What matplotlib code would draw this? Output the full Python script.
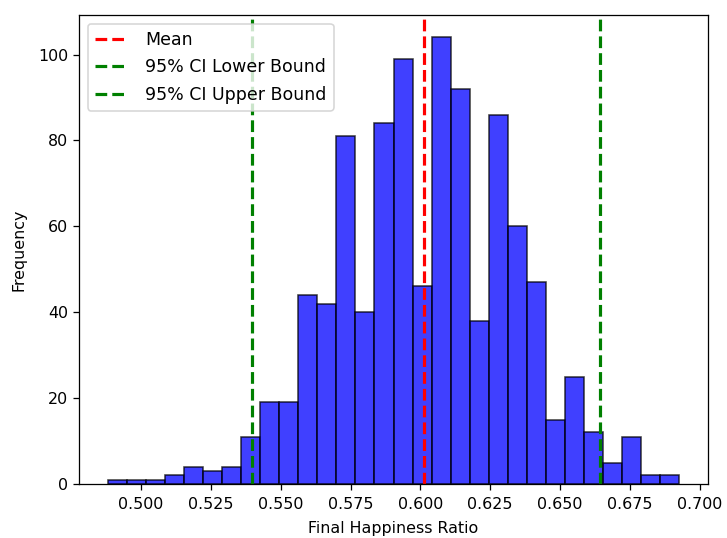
import numpy as np
import matplotlib
matplotlib.use("Agg")
import matplotlib.pyplot as plt
from matplotlib.ticker import MultipleLocator, FormatStrFormatter

# ---- data ----------------------------------------------------------------
counts = [1, 1, 1, 2, 4, 3, 4, 11, 19, 19, 44, 42, 81, 40, 84,
          99, 46, 104, 92, 38, 86, 60, 47, 15, 25, 12, 5, 11, 2, 2]
bin_lo = 0.4880
bin_hi = 0.6928
mean_val = 0.6013
ci_lower = 0.5398
ci_upper = 0.6642

edges = np.linspace(bin_lo, bin_hi, len(counts) + 1)
centers = (edges[:-1] + edges[1:]) / 2

# ---- plot ----------------------------------------------------------------
DPI = 114
fig = plt.figure(figsize=(727 / DPI, 538 / DPI), dpi=DPI)
ax = fig.add_axes([0.1087, 0.1004, 0.8652, 0.8717])

ax.hist(centers, bins=edges, weights=counts, color="blue", alpha=0.75,
        edgecolor="black")
ax.axvline(mean_val, color="red", ls="--", lw=2, label="Mean")
ax.axvline(ci_lower, color="green", ls="--", lw=2, label="95% CI Lower Bound")
ax.axvline(ci_upper, color="green", ls="--", lw=2, label="95% CI Upper Bound")

ax.xaxis.set_major_locator(MultipleLocator(0.025))
ax.xaxis.set_major_formatter(FormatStrFormatter("%.3f"))
ax.tick_params(axis="x", pad=4.5)

ax.set_xlabel("Final Happiness Ratio", labelpad=6)
ax.set_ylabel("Frequency", labelpad=7)
ax.legend(loc="upper left", fontsize=11, labelspacing=0.55,
          handlelength=1.9, handletextpad=1.0)

fig.savefig("out.png", dpi=DPI)
